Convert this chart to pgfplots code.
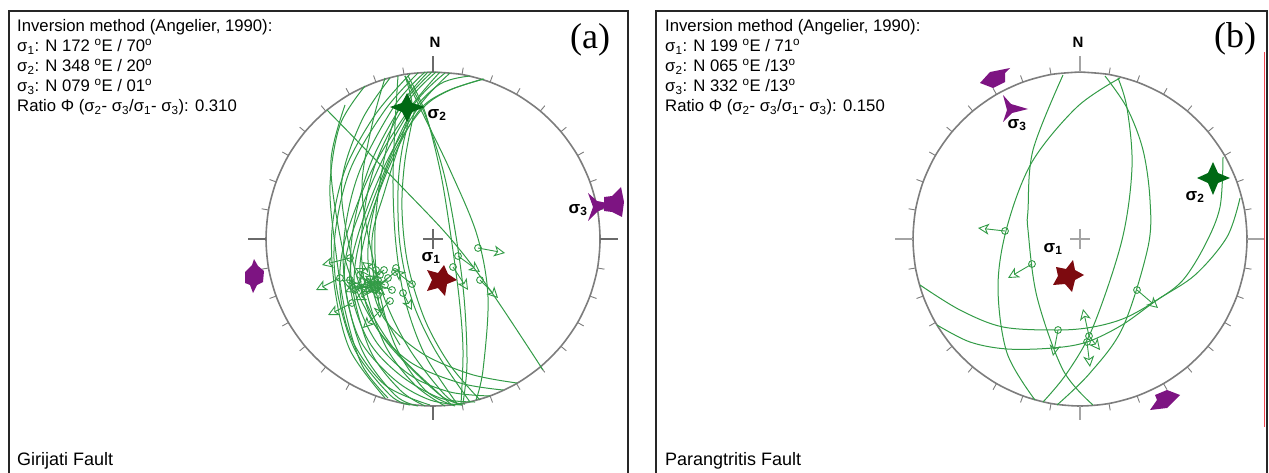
\documentclass[border=0pt]{standalone}
\usepackage{pgfplots}
\usepackage{fontspec}
\setmainfont{Liberation Sans}
\newfontfamily\serifx{Liberation Serif}
\usetikzlibrary{arrows.meta}
\pgfplotsset{compat=1.18}
\definecolor{arcg}{RGB}{50,155,70}
\definecolor{sgreen}{RGB}{0,105,20}
\definecolor{sred}{RGB}{125,10,15}
\definecolor{spurple}{RGB}{125,20,130}
\definecolor{netg}{RGB}{125,125,125}
\pgfplotsset{
 canvas/.style={hide axis,scale only axis,width=1269pt,height=473pt,clip=true,anchor=south west,at={(0,0)}},
 arc/.style={no marks,smooth,tension=0.55,color=arcg,line width=1pt},
 arw/.style={no marks,color=arcg,line width=0.9pt,-{Stealth[open,length=11pt,width=11pt,inset=3pt]}},
 pts/.style={only marks,mark=o,mark size=3.4pt,color=arcg,mark options={line width=0.9pt}},
 sym/.style={no marks,draw=none,fill=#1},
}
\pgfplotstableread[row sep=\\]{
x y\\ 0 167\\ 29 164.5\\ 57.1 156.9\\ 83.5 144.6\\ 107.3 127.9\\ 127.9 107.3\\ 144.6 83.5\\ 156.9 57.1\\ 164.5 29\\
167 0\\ 164.5 -29\\ 156.9 -57.1\\ 144.6 -83.5\\ 127.9 -107.3\\ 107.3 -127.9\\ 83.5 -144.6\\ 57.1 -156.9\\ 29 -164.5\\
0 -167\\ -29 -164.5\\ -57.1 -156.9\\ -83.5 -144.6\\ -107.3 -127.9\\ -127.9 -107.3\\ -144.6 -83.5\\ -156.9 -57.1\\ -164.5 -29\\
-167 0\\ -164.5 29\\ -156.9 57.1\\ -144.6 83.5\\ -127.9 107.3\\ -107.3 127.9\\ -83.5 144.6\\ -57.1 156.9\\ -29 164.5\\ 0 167\\
}\circletab
\pgfplotstableread[row sep=\\]{
x y\\
29 164.5\\ 30.2 171.4\\ nan nan\\ 57.1 156.9\\ 59.5 163.5\\ nan nan\\ 83.5 144.6\\ 87 150.7\\ nan nan\\ 107.3 127.9\\ 111.8 133.3\\ nan nan\\
127.9 107.3\\ 133.3 111.8\\ nan nan\\ 144.6 83.5\\ 150.7 87\\ nan nan\\ 156.9 57.1\\ 163.5 59.5\\ nan nan\\ 164.5 29\\ 171.4 30.2\\ nan nan\\
29 -164.5\\ 30.2 -171.4\\ nan nan\\ 57.1 -156.9\\ 59.5 -163.5\\ nan nan\\ 83.5 -144.6\\ 87 -150.7\\ nan nan\\ 107.3 -127.9\\ 111.8 -133.3\\ nan nan\\
127.9 -107.3\\ 133.3 -111.8\\ nan nan\\ 144.6 -83.5\\ 150.7 -87\\ nan nan\\ 156.9 -57.1\\ 163.5 -59.5\\ nan nan\\ 164.5 -29\\ 171.4 -30.2\\ nan nan\\
-29 164.5\\ -30.2 171.4\\ nan nan\\ -57.1 156.9\\ -59.5 163.5\\ nan nan\\ -83.5 144.6\\ -87 150.7\\ nan nan\\ -107.3 127.9\\ -111.8 133.3\\ nan nan\\
-127.9 107.3\\ -133.3 111.8\\ nan nan\\ -144.6 83.5\\ -150.7 87\\ nan nan\\ -156.9 57.1\\ -163.5 59.5\\ nan nan\\ -164.5 29\\ -171.4 30.2\\ nan nan\\
-29 -164.5\\ -30.2 -171.4\\ nan nan\\ -57.1 -156.9\\ -59.5 -163.5\\ nan nan\\ -83.5 -144.6\\ -87 -150.7\\ nan nan\\ -107.3 -127.9\\ -111.8 -133.3\\ nan nan\\
-127.9 -107.3\\ -133.3 -111.8\\ nan nan\\ -144.6 -83.5\\ -150.7 -87\\ nan nan\\ -156.9 -57.1\\ -163.5 -59.5\\ nan nan\\ -164.5 -29\\ -171.4 -30.2\\
}\ticktab
\pgfplotstableread[row sep=\\]{
x y\\ 0 167\\ 0 183\\ nan nan\\ 167 0\\ 185 0\\ nan nan\\ -167 0\\ -185 0\\ nan nan\\ 0 -167\\ 0 -181\\ nan nan\\ -10 0\\ 10 0\\ nan nan\\ 0 -10\\ 0 10\\
}\crosstab
\newcommand{\dg}{\textsuperscript{o}}
\newcommand{\sg}[1]{σ\textsubscript{#1}}
\newcommand{\bsg}[1]{{\bfseries\fontsize{17}{18}\selectfont σ\textsubscript{#1}}}
\newcommand{\body}{\fontsize{16.7}{18}\selectfont}
\newcommand{\foot}{\fontsize{18}{20}\selectfont}
\begin{document}
\begin{tikzpicture}
\path[use as bounding box] (0,0) rectangle (1269pt,473pt);
% net (a)
\begin{axis}[canvas,xmin=-433,xmax=836,ymin=-234,ymax=239]
\addplot[no marks,smooth,color=netg,line width=1.6pt] table[x=x,y=y]{\circletab};
\addplot[no marks,unbounded coords=jump,color=netg,line width=0.9pt] table[x=x,y=y]{\ticktab};
\addplot[no marks,unbounded coords=jump,color=netg!85!black,line width=1.1pt] table[x=x,y=y]{\crosstab};
\end{axis}
% net (b)
\begin{axis}[canvas,xmin=-1080,xmax=189,ymin=-234,ymax=239]
\addplot[no marks,smooth,color=netg,line width=1.6pt] table[x=x,y=y]{\circletab};
\addplot[no marks,unbounded coords=jump,color=netg,line width=0.9pt] table[x=x,y=y]{\ticktab};
\addplot[no marks,unbounded coords=jump,color=netg!70!white,line width=1.4pt] table[x=x,y=y]{\crosstab};
\end{axis}
% page content in reference pixels
\begin{axis}[canvas,xmin=0,xmax=1269,ymin=0,ymax=473,y dir=reverse]
% frames
\addplot[no marks,black!85,line width=2pt] coordinates {(8.5,473)(8.5,11.5)(627.5,11.5)(627.5,473)};
\addplot[no marks,black!85,line width=2pt] coordinates {(656,473)(656,11.5)(1266.5,11.5)(1266.5,473)};
\addplot[no marks,color={rgb,255:red,240;green,70;blue,80},line width=1.8pt] coordinates {(1264.5,52)(1264.5,427)};
% ---- arcs (a)
\addplot[arc] coordinates {(405,76)(422,112)(450,170)(477,235)(488,297)(483,370)(476,400)};
\addplot[arc] coordinates {(405,76)(424,112)(443,170)(455,230)(464,297)(467,363)(463,403)};
\addplot[arc] coordinates {(408,76)(425,112)(440,170)(450,230)(459,297)(463,350)(461,404)};
\addplot[arc] coordinates {(327,110)(400,185)(450,238)(490,290)(543,370)};
\addplot[arc] coordinates {(484,79)(450,90)(423,108)(395,150)(375,205)(368,260)(382,315)(420,352)(470,374)(517,383)};
\addplot[arc] coordinates {(483,79)(445,92)(418,112)(390,165)(368,225)(360,275)(375,325)(410,362)(460,383)(503,390)};
\addplot[arc] coordinates {(470,76)(440,84)(410,115)(385,170)(360,240)(355,290)(375,340)(410,375)(450,392)(490,396)};
\addplot[arc] coordinates {(450,73)(420,105)(385,165)(358,235)(350,285)(368,340)(400,375)(440,398)(475,402)};
\addplot[arc] coordinates {(445,73)(415,103)(380,165)(350,240)(345,285)(360,340)(395,380)(430,400)(462,405)};
\addplot[arc] coordinates {(440,72)(410,108)(372,170)(345,240)(340,290)(352,340)(385,385)(430,405)};
\addplot[arc] coordinates {(436,72)(405,105)(375,165)(362,230)(365,285)(385,345)(415,385)(445,406)};
\addplot[arc] coordinates {(432,72)(402,105)(370,165)(353,230)(352,285)(370,350)(400,390)(425,406)};
\addplot[arc] coordinates {(428,72)(398,110)(382,170)(375,230)(378,285)(395,345)(425,390)(455,406)};
\addplot[arc] coordinates {(425,72)(395,105)(360,170)(345,230)(345,285)(362,350)(395,395)(418,406)};
\addplot[arc] coordinates {(418,73)(385,110)(350,170)(335,235)(337,290)(355,350)(390,395)(410,405)};
\addplot[arc] coordinates {(410,74)(375,115)(345,170)(332,230)(335,290)(350,350)(385,398)};
\addplot[arc] coordinates {(365,86)(340,125)(330,185)(335,245)(345,310)(362,365)(388,398)};
\addplot[arc] coordinates {(390,78)(362,120)(342,180)(348,240)(365,300)(395,350)(435,390)(452,405)};
\addplot[arc] coordinates {(345,105)(331,160)(338,225)(352,280)(385,340)(440,395)(465,404)};
\addplot[arc] coordinates {(385,78)(372,125)(362,185)(370,245)(385,300)(410,350)(445,395)(462,405)};
\addplot[arc] coordinates {(398,76)(395,125)(393,185)(396,245)(405,300)(425,355)(458,405)};
\addplot[arc] coordinates {(412,108)(402,150)(398,190)(400,245)(412,300)(435,350)(470,402)};
\addplot[arc] coordinates {(415,108)(405,160)(402,210)(408,265)(425,320)(450,365)(480,400)};
\addplot[arc] coordinates {(405,76)(412,105)(404,130)(385,190)(372,240)(378,300)(400,345)};
% arrows (a)
\addplot[arw] coordinates {(478,248)(505,253)};
\addplot[arw] coordinates {(458,256)(480,272)};
\addplot[arw] coordinates {(453,267)(468,290)};
\addplot[arw] coordinates {(480,280)(498,298)};
\addplot[arw] coordinates {(350,258)(322,265)};
\addplot[arw] coordinates {(340,278)(316,290)};
\addplot[arw] coordinates {(352,303)(328,315)};
\addplot[arw] coordinates {(390,301)(363,328)};
\addplot[arw] coordinates {(403,293)(412,310)};
\addplot[arw] coordinates {(412,284)(394,270)};
\addplot[arw] coordinates {(378,280)(355,268)};
\addplot[arw] coordinates {(372,288)(350,285)};
\addplot[arw] coordinates {(368,282)(345,292)};
\addplot[arw] coordinates {(380,275)(362,262)};
\addplot[arw] coordinates {(375,290)(355,300)};
\addplot[arw] coordinates {(365,290)(342,280)};
\addplot[arw] coordinates {(385,285)(365,276)};
\addplot[arw] coordinates {(395,272)(372,292)};
\addplot[arw] coordinates {(378,295)(380,318)};
\addplot[arw] coordinates {(360,275)(385,295)};
\addplot[arw] coordinates {(388,278)(368,292)};
\addplot[arw] coordinates {(376,270)(372,292)};
\addplot[arw] coordinates {(355,290)(378,282)};
\addplot[arw] coordinates {(392,290)(370,282)};
\addplot[arw] coordinates {(384,270)(362,288)};
\addplot[arw] coordinates {(350,280)(374,292)};
\addplot[pts] coordinates {(478,248)(458,256)(453,267)(480,280)(350,258)(340,278)(352,303)(390,301)(403,293)(412,284)(378,280)(372,288)(368,282)(380,275)(375,290)(365,290)(385,285)(395,272)(378,295)(360,275)(396,268)(362,282)(388,278)(376,270)(355,290)(392,290)(384,270)(350,280)};
% symbols (a)
\addplot[sym=sgreen] coordinates {(390,107)(402,103)(407,93)(412,103)(425,107)(412,112)(407,122)(402,112)} --cycle;
\addplot[sym=sred] coordinates {(444,265)(448,274)(457,280)(447,284)(445,296)(438,288)(427,291)(432,280)(427,270)(438,273)} --cycle;
\addplot[sym=spurple] coordinates {(588,193)(597,201)(612,204)(597,212)(588,221)(593,207)} --cycle;
\addplot[sym=spurple] coordinates {(604,197)(612,196)(621,187)(624,202)(622,217)(612,212)(604,211)} --cycle;
\addplot[sym=spurple] coordinates {(245,272)(252,265)(254,259)(258,266)(264,271)(263,282)(257,285)(253,293)(250,285)(245,283)} --cycle;
% ---- arcs (b)
\addplot[arc] coordinates {(1063,75)(1033,150)(1028,210)(1028,230)(1037,297)(1063,370)(1093,405)};
\addplot[arc] coordinates {(1120,78)(1077,107)(1032,162)(1007,227)(998,287)(1007,353)(1035,400)};
\addplot[arc] coordinates {(1105,76)(1127,108)(1143,150)(1150,200)(1148,247)(1123,327)(1090,373)(1057,405)};
\addplot[arc] coordinates {(1118,78)(1127,108)(1132,167)(1122,240)(1093,327)(1067,373)(1043,402)};
\addplot[arc] coordinates {(1223,157)(1220,207)(1205,245)(1183,280)(1157,300)(1125,318)(1093,327)(1058,330)(1003,327)(960,310)(920,285)};
\addplot[arc] coordinates {(1240,198)(1227,237)(1195,275)(1157,300)(1122,325)(1087,342)(1053,348)(1007,349)(970,342)(937,325)};
% arrows (b)
\addplot[arw] coordinates {(1005,231)(978,228)};
\addplot[arw] coordinates {(1032,264)(1008,278)};
\addplot[arw] coordinates {(1137,290)(1158,308)};
\addplot[arw] coordinates {(1058,330)(1053,356)};
\addplot[arw] coordinates {(1089,336)(1083,309)};
\addplot[arw] coordinates {(1087,342)(1090,367)};
\addplot[arw] coordinates {(1089,336)(1100,350)};
\addplot[pts] coordinates {(1005,231)(1032,264)(1137,290)(1058,330)(1089,336)(1087,342)};
% symbols (b)
\addplot[sym=sgreen] coordinates {(1197,178)(1208,173)(1213,162)(1218,173)(1230,178)(1218,183)(1213,195)(1208,183)} --cycle;
\addplot[sym=sred] coordinates {(1073,260)(1075,270)(1084,275)(1075,280)(1072,292)(1065,284)(1053,285)(1058,276)(1056,267)(1066,269)} --cycle;
\addplot[sym=spurple] coordinates {(1003,95)(1011,104)(1028,109)(1012,113)(1003,122)(1007,110)} --cycle;
\addplot[sym=spurple] coordinates {(980,83)(990,72)(1010,68)(1005,73)(1005,82)(993,88)} --cycle;
\addplot[sym=spurple] coordinates {(1150,410)(1157,400)(1155,395)(1167,390)(1180,395)(1172,403)(1167,408)} --cycle;
% ---- text
\tikzset{t/.style={anchor=base west,inner sep=0pt,font=\body},f/.style={anchor=base west,inner sep=0pt,font=\foot}}
\node[t] at (axis cs:17,32) {Inversion method (Angelier, 1990):};
\node[t] at (axis cs:17,52) {\sg{1}: N 172 \dg{}E / 70\dg};
\node[t] at (axis cs:17,72) {\sg{2}: N 348 \dg{}E / 20\dg};
\node[t] at (axis cs:17,92) {\sg{3}: N 079 \dg{}E / 01\dg};
\node[t] at (axis cs:17,112) {Ratio Φ (\sg{2}- \sg{3}/\sg{1}- \sg{3}): 0.310};
\node[f] at (axis cs:17,465) {Girijati Fault};
\node[t] at (axis cs:665,32) {Inversion method (Angelier, 1990):};
\node[t] at (axis cs:665,52) {\sg{1}: N 199 \dg{}E / 71\dg};
\node[t] at (axis cs:665,72) {\sg{2}: N 065 \dg{}E /13\dg};
\node[t] at (axis cs:665,92) {\sg{3}: N 332 \dg{}E /13\dg};
\node[t] at (axis cs:665,112) {Ratio Φ (\sg{2}- \sg{3}/\sg{1}- \sg{3}): 0.150};
\node[f] at (axis cs:665,465) {Parangtritis Fault};
\node[font=\serifx\fontsize{36}{38}\selectfont,inner sep=0pt] at (axis cs:590,40) {(a)};
\node[font=\serifx\fontsize{36}{38}\selectfont,inner sep=0pt] at (axis cs:1235,39) {(b)};
\node[font=\bfseries\fontsize{15}{16}\selectfont,inner sep=0pt] at (axis cs:435,42) {N};
\node[font=\bfseries\fontsize{15}{16}\selectfont,inner sep=0pt] at (axis cs:1078,42) {N};
\node[inner sep=0pt] at (axis cs:437,115) {\bsg{2}};
\node[inner sep=0pt] at (axis cs:578,210) {\bsg{3}};
\node[inner sep=0pt] at (axis cs:431,258) {\bsg{1}};
\node[inner sep=0pt] at (axis cs:1017,125) {\bsg{3}};
\node[inner sep=0pt] at (axis cs:1195,197) {\bsg{2}};
\node[inner sep=0pt] at (axis cs:1053,249) {\bsg{1}};
\end{axis}
\end{tikzpicture}
\end{document}
